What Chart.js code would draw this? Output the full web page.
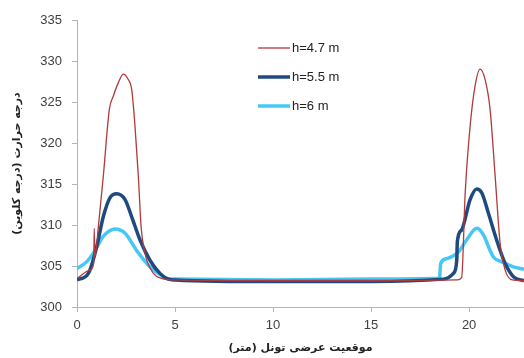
<!DOCTYPE html>
<html>
<head>
<meta charset="utf-8">
<script src="https://cdn.jsdelivr.net/npm/chart.js@4"></script>
<style>
  html, body { margin: 0; padding: 0; background: #fff; }
  canvas { display: block; }
</style>
</head>
<body>
<canvas id="tempChart" width="524" height="358"></canvas>
<script>
// موقعیت (متر) و دما (کلوین) برای هر ارتفاع
const labelsH = ['h=4.7 m', 'h=5.5 m', 'h=6 m'];

const x47 = [0, 0.66, 0.85, 0.88, 0.91, 1.09, 1.34, 1.65, 1.85, 2.1, 2.36, 2.6, 2.79, 2.96, 3.13, 3.27, 3.47, 3.9, 4.32, 5, 10, 15, 19.4, 19.62, 19.8, 20.05, 20.3, 20.56, 20.82, 21.07, 21.33, 21.58, 21.84, 22.2, 22.8];
const y47 = [303.5, 304.5, 305.3, 309.6, 306.1, 309.8, 315.9, 324.1, 325.7, 327.3, 328.4, 327.8, 326.5, 322, 315.9, 309.8, 306.5, 304.1, 303.5, 303.3, 303.2, 303.2, 303.3, 303.6, 313.9, 322, 326.9, 329.0, 327.7, 324.1, 315.9, 307.8, 304.5, 303.3, 303.2];

const x55 = [0, 0.58, 1.0, 1.34, 1.68, 2.02, 2.45, 2.79, 3.21, 3.72, 4.23, 4.66, 5, 10, 15, 18.69, 19.2, 19.37, 19.4, 19.62, 20.05, 20.39, 20.65, 20.99, 21.4, 21.84, 22.26, 22.8];
const y55 = [303.3, 304.1, 307.3, 311, 313.3, 313.8, 313.1, 311, 308.2, 305.7, 304.1, 303.4, 303.3, 303.1, 303.1, 303.4, 304.1, 305.7, 308, 309.4, 313.1, 314.4, 313.9, 311.4, 308.2, 305.3, 303.7, 303.2];

const x6 = [0, 0.49, 0.92, 1.34, 1.94, 2.45, 3.04, 3.72, 4.4, 4.75, 5, 10, 15, 18.49, 18.55, 18.86, 19.45, 19.88, 20.39, 20.73, 21.07, 21.24, 21.67, 22.26, 22.8];
const y6 = [304.7, 305.5, 306.9, 308.6, 309.5, 309, 306.9, 304.9, 303.7, 303.4, 303.4, 303.3, 303.4, 303.5, 305.3, 305.9, 306.7, 308.2, 309.6, 308.8, 306.9, 306.1, 305.5, 304.9, 304.6];

const xTicks = [0, 5, 10, 15, 20];

const toPoints = (xs, ys) => xs.map((x, i) => ({ x: x, y: ys[i] }));

// افسانه داخل ناحیه نمودار
const insideLegend = {
    id: 'insideLegend',
    afterDraw(chart) {
        const ctx = chart.ctx;
        const rows = [48, 77, 106];
        ctx.save();
        chart.data.datasets.forEach((ds, i) => {
            ctx.strokeStyle = ds.borderColor;
            ctx.lineWidth = ds.borderWidth;
            ctx.beginPath();
            ctx.moveTo(258, rows[i]);
            ctx.lineTo(290, rows[i]);
            ctx.stroke();
            ctx.fillStyle = '#222';
            ctx.font = '13px "Liberation Sans", sans-serif';
            ctx.textBaseline = 'middle';
            ctx.textAlign = 'left';
            ctx.fillText(ds.label, 292, rows[i]);
        });
        ctx.restore();
    }
};

const axisGray = '#b4b4b4';
const tickFont = { family: '"Liberation Sans", sans-serif', size: 13 };
const titleFont = { family: '"DejaVu Sans", sans-serif', size: 11, weight: 'bold' };

new Chart(document.getElementById('tempChart').getContext('2d'), {
    type: 'line',
    data: {
        datasets: [{
            label: labelsH[0],
            data: toPoints(x47, y47),
            borderColor: '#b03a3c',
            borderWidth: 1.3,
            pointRadius: 0,
            cubicInterpolationMode: 'monotone',
            fill: false
        }, {
            label: labelsH[1],
            data: toPoints(x55, y55),
            borderColor: '#1f4a80',
            borderWidth: 3.5,
            pointRadius: 0,
            cubicInterpolationMode: 'monotone',
            fill: false
        }, {
            label: labelsH[2],
            data: toPoints(x6, y6),
            borderColor: '#45c8f5',
            borderWidth: 3.5,
            pointRadius: 0,
            cubicInterpolationMode: 'monotone',
            fill: false
        }]
    },
    options: {
        responsive: false,
        animation: false,
        devicePixelRatio: 1,
        layout: { padding: { top: 20, right: 0, left: 0, bottom: 0 } },
        plugins: {
            legend: { display: false },
            tooltip: { enabled: false }
        },
        scales: {
            x: {
                type: 'linear',
                min: 0,
                max: 22.8,
                afterBuildTicks: scale => { scale.ticks = xTicks.map(v => ({ value: v })); },
                afterFit: scale => { scale.height = 51; },
                border: { color: axisGray },
                grid: { drawOnChartArea: false, color: axisGray, tickLength: 5 },
                ticks: { color: '#404040', font: tickFont, padding: 6, maxRotation: 0 },
                title: {
                    display: true,
                    text: 'موقعیت عرضی تونل (متر)',
                    color: '#222',
                    font: titleFont,
                    padding: { top: 0, bottom: 3 }
                }
            },
            y: {
                min: 300,
                max: 335,
                afterFit: scale => { scale.width = 77; },
                border: { color: axisGray },
                grid: { drawOnChartArea: false, color: axisGray, tickLength: 5 },
                ticks: { stepSize: 5, color: '#404040', font: tickFont, padding: 10 },
                title: {
                    display: true,
                    text: 'درجه حرارت (درجه کلوین)',
                    color: '#222',
                    font: titleFont,
                    padding: { top: 11, bottom: 0 }
                }
            }
        }
    },
    plugins: [insideLegend]
});
</script>
</body>
</html>
